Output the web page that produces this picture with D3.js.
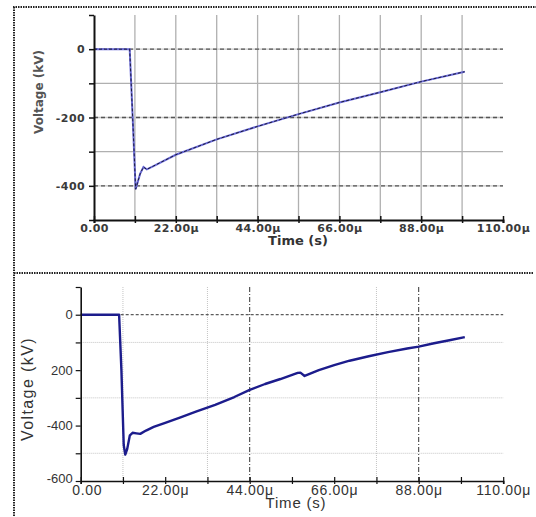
<!DOCTYPE html>
<html><head><meta charset="utf-8">
<script src="https://cdn.jsdelivr.net/npm/d3@7"></script>
<style>body{margin:0;background:#fff}svg{display:block}</style>
</head><body>
<script>
// ---- data ----
const topTime = [0, 9.6, 10.4, 11.2, 12.4, 13.3, 14.2, 16, 22, 33, 44, 55, 66, 77, 88, 99.7];
const topVolt = [0, 0, -200, -410, -365, -345, -352, -342, -309, -264, -226, -190, -156, -126, -95, -66];
const botTime = [0, 10, 10.6, 11.2, 11.6, 12.1, 12.8, 13.5, 14.5, 15.5, 17, 19, 22, 26, 30, 35, 40, 44, 48, 52, 56.5, 57.2, 58.3, 62, 66, 70, 75, 80, 85, 88, 92, 96, 100];
const botVolt = [0, 0, -200, -470, -505, -485, -435, -426, -428, -430, -418, -405, -390, -370, -350, -325, -297, -271, -250, -232, -210, -209, -221, -200, -182, -166, -150, -135, -122, -115, -103, -92, -81];
const xTickVals = [0, 22, 44, 66, 88, 110];
const xTickLabels = ["0.00", "22.00μ", "44.00μ", "66.00μ", "88.00μ", "110.00μ"];
const topYTickVals = [0, -200, -400];
const topYTickLabels = ["0", "-200", "-400"];
const botYTickVals = [0, -200, -400, -600];
const botYTickLabels = ["0", "200", "-400", "-600"];

const W = 536, H = 517;
const svg = d3.select("body").append("svg").attr("width", W).attr("height", H);

// frame (dotted)
const frame = svg.append("g").attr("stroke", "#222").attr("stroke-width", 2).attr("stroke-dasharray", "1.5,1");
frame.append("line").attr("x1", 13).attr("x2", 536).attr("y1", 7).attr("y2", 7);
frame.append("line").attr("x1", 14).attr("x2", 14).attr("y1", 7).attr("y2", 517);
frame.append("line").attr("x1", 14).attr("x2", 533).attr("y1", 273).attr("y2", 273);

// ================= TOP CHART =================
(function(){
  const x = d3.scaleLinear().domain([0, 110]).range([94, 503]);
  const y = d3.scaleLinear().domain([-500, 100]).range([220, 15]);
  const g = svg.append("g");
  g.append("g").selectAll("line").data(d3.range(11, 110, 11)).join("line")
    .attr("x1", d => x(d)).attr("x2", d => x(d)).attr("y1", y(100)).attr("y2", y(-500))
    .attr("stroke", "#b0b0b0").attr("stroke-width", 1.3);
  g.append("g").selectAll("line").data([-100, -300]).join("line")
    .attr("x1", x(0)).attr("x2", x(110)).attr("y1", d => y(d)).attr("y2", d => y(d))
    .attr("stroke", "#b0b0b0").attr("stroke-width", 1.3);
  g.append("g").selectAll("line").data([0, -200, -400]).join("line")
    .attr("x1", x(0)).attr("x2", x(110)).attr("y1", d => y(d)).attr("y2", d => y(d))
    .attr("stroke", "#c8c8c8").attr("stroke-width", 1.3);
  g.append("g").selectAll("line").data([0, -200, -400]).join("line")
    .attr("x1", x(0)).attr("x2", x(110)).attr("y1", d => y(d)).attr("y2", d => y(d))
    .attr("stroke", "#555").attr("stroke-width", 1.3).attr("stroke-dasharray", "4,3");

  const pts = topTime.map((t, i) => [t, topVolt[i]]);
  const line = d3.line().x(d => x(d[0])).y(d => y(d[1]));
  g.append("path").datum(pts).attr("d", line).attr("fill", "none")
    .attr("stroke", "#6a6ad8").attr("stroke-width", 2);
  g.append("path").datum(pts).attr("d", line).attr("fill", "none")
    .attr("stroke", "#1a1a3a").attr("stroke-width", 1).attr("stroke-dasharray", "3,2");

  const xAxis = d3.axisBottom(x).tickValues(d3.range(0, 111, 11)).tickSize(3)
    .tickFormat(d => { const i = xTickVals.indexOf(d); return i >= 0 ? xTickLabels[i] : ""; });
  const xa = g.append("g").attr("transform", `translate(0,${y(-500)})`).call(xAxis);
  xa.select(".domain").attr("stroke", "#111").attr("stroke-width", 2);
  xa.selectAll(".tick line").attr("stroke", "#111").attr("stroke-width", 1.5).attr("y1", -4);
  xa.selectAll(".tick text").attr("font-family", "DejaVu Sans").attr("font-size", 11)
    .attr("font-weight", "bold").attr("fill", "#3a3a3a").attr("letter-spacing", 0.4).attr("dy", "0.55em");

  const yAxis = d3.axisLeft(y).tickValues(d3.range(-500, 101, 100)).tickSize(5).tickSizeOuter(0)
    .tickFormat(d => { const i = topYTickVals.indexOf(d); return i >= 0 ? topYTickLabels[i] : ""; });
  const ya = g.append("g").attr("transform", `translate(${x(0)},0)`).call(yAxis);
  ya.select(".domain").attr("stroke", "#111").attr("stroke-width", 2);
  ya.selectAll(".tick line").attr("stroke", "#111").attr("stroke-width", 1.5);
  ya.selectAll(".tick text").attr("font-family", "DejaVu Sans").attr("font-size", 11)
    .attr("font-weight", "bold").attr("fill", "#3a3a3a").attr("letter-spacing", 0.4).attr("x", -9);

  g.append("text").attr("x", 298).attr("y", 245).attr("text-anchor", "middle")
    .attr("font-family", "DejaVu Sans").attr("font-size", 13).attr("font-weight", "bold")
    .attr("fill", "#333").text("Time (s)");
  g.append("text").attr("transform", "translate(43,92) rotate(-90)").attr("text-anchor", "middle")
    .attr("font-family", "DejaVu Sans").attr("font-size", 12).attr("font-weight", "bold")
    .attr("fill", "#555").text("Voltage (kV)");
})();

// ================= BOTTOM CHART =================
(function(){
  const x = d3.scaleLinear().domain([0, 110]).range([80.7, 503.2]);
  const y = d3.scaleLinear().domain([-600, 100]).range([481, 287]);
  const g = svg.append("g");
  g.append("g").selectAll("line").data([11, 33, 77]).join("line")
    .attr("x1", d => x(d)).attr("x2", d => x(d)).attr("y1", y(100)).attr("y2", y(-600))
    .attr("stroke", "#c4c4c4").attr("stroke-width", 1).attr("stroke-dasharray", "1,1");
  g.append("g").selectAll("line").data([-100, -300, -500]).join("line")
    .attr("x1", x(0)).attr("x2", x(110)).attr("y1", d => y(d)).attr("y2", d => y(d))
    .attr("stroke", "#c4c4c4").attr("stroke-width", 1).attr("stroke-dasharray", "1,1");
  g.append("g").selectAll("line").data([44, 88]).join("line")
    .attr("x1", d => x(d)).attr("x2", d => x(d)).attr("y1", y(100)).attr("y2", y(-600))
    .attr("stroke", "#333").attr("stroke-width", 1).attr("stroke-dasharray", "5,2,1,2");
  g.append("line").attr("x1", x(0)).attr("x2", x(110)).attr("y1", y(0)).attr("y2", y(0))
    .attr("stroke", "#333").attr("stroke-width", 1).attr("stroke-dasharray", "3,2");

  const pts = botTime.map((t, i) => [t, botVolt[i]]);
  const line = d3.line().x(d => x(d[0])).y(d => y(d[1]));
  g.append("path").datum(pts).attr("d", line).attr("fill", "none")
    .attr("stroke", "#1c1c8c").attr("stroke-width", 2.4).attr("stroke-linejoin", "round");

  const xAxis = d3.axisBottom(x).tickValues(d3.range(0, 111, 11)).tickSize(3)
    .tickFormat(d => { const i = xTickVals.indexOf(d); return i >= 0 ? xTickLabels[i] : ""; });
  const xa = g.append("g").attr("transform", `translate(0,${y(-600)})`).call(xAxis);
  xa.select(".domain").attr("stroke", "#111").attr("stroke-width", 1.6);
  xa.selectAll(".tick line").attr("stroke", "#111").attr("stroke-width", 1.2).attr("y1", -4);
  xa.selectAll(".tick text").attr("font-family", "Liberation Sans").attr("font-size", 14)
    .attr("fill", "#333").attr("letter-spacing", 0.7).attr("dy", "0.6em")
    .attr("dx", d => d === 0 ? 6 : 0);

  const yAxis = d3.axisLeft(y).tickValues(d3.range(-600, 101, 100)).tickSize(5).tickSizeOuter(0)
    .tickFormat(d => { const i = botYTickVals.indexOf(d); return i >= 0 ? botYTickLabels[i] : ""; });
  const ya = g.append("g").attr("transform", `translate(${x(0)},0)`).call(yAxis);
  ya.select(".domain").attr("stroke", "#111").attr("stroke-width", 1.6);
  ya.selectAll(".tick line").attr("stroke", "#111").attr("stroke-width", 1.2);
  ya.selectAll(".tick text").attr("font-family", "Liberation Sans").attr("font-size", 13)
    .attr("fill", "#333").attr("x", -8).attr("dy", d => d === -600 ? "0.1em" : "0.32em");

  g.append("text").attr("x", 296).attr("y", 508).attr("text-anchor", "middle")
    .attr("font-family", "Liberation Sans").attr("font-size", 15).attr("letter-spacing", 0.8)
    .attr("fill", "#333").text("Time (s)");
  g.append("text").attr("transform", "translate(33,389) rotate(-90)").attr("text-anchor", "middle")
    .attr("font-family", "Liberation Sans").attr("font-size", 16).attr("letter-spacing", 1.4)
    .attr("fill", "#333").text("Voltage (kV)");
})();
</script>
</body></html>
